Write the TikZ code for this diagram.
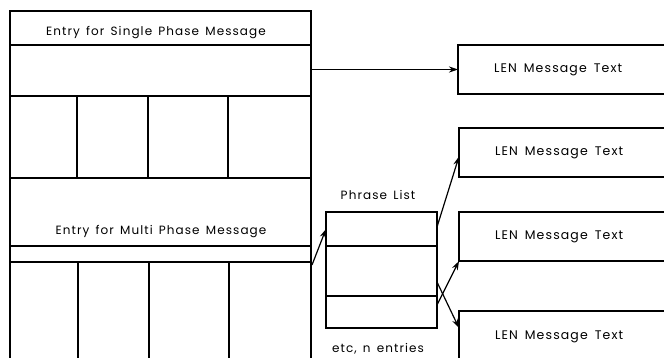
\documentclass[tikz,border=0pt]{standalone}
\usepackage{fontspec}
\setmainfont{Poppins}[LetterSpace=9,WordSpace=1.45]
\usetikzlibrary{arrows.meta,calc}
\newcommand\myLenFont{\fontsize{12.5}{14}\selectfont\spaceskip=7pt\relax}
\newcommand\lentext[1]{\makebox[188pt][l]{#1}}
\begin{document}
\begin{tikzpicture}[x=1pt,y=-1pt,line width=1.5pt,
  every node/.style={font=\fontsize{12}{14}\selectfont},
  box/.style={draw,rectangle,inner sep=0pt,outer sep=0pt,anchor=north west},
  lenbox/.style={box,minimum width=260pt,minimum height=49pt,inner xsep=36pt,font=\myLenFont},
  lbl/.style={inner sep=0pt},
  conn/.style={-{Stealth[length=9pt,width=6pt]},line width=1.2pt}]
\useasboundingbox (0,0) rectangle (664,358);
\clip (0,0) rectangle (664,358);
% left table
\node[box,minimum width=301pt,minimum height=34pt] (title) at (10,11) {};
\node[lbl] (titletext) at (156,33) {Entry for Single Phase Message};
\node[box,minimum width=301pt,minimum height=51pt] (single) at (10,45) {};
\node[box,minimum width=67pt,minimum height=82pt] (sc1) at (10,96) {};
\node[box,minimum width=71pt,minimum height=82pt] (sc2) at (77,96) {};
\node[box,minimum width=80pt,minimum height=82pt] (sc3) at (148,96) {};
\node[box,minimum width=83pt,minimum height=82pt] (sc4) at (228,96) {};
\node[box,minimum width=301pt,minimum height=68pt] (multi) at (10,178) {};
\node[lbl] (multitext) at (161,232) {Entry for Multi Phase Message};
\node[box,minimum width=301pt,minimum height=16pt] (thin) at (10,246) {};
\node[box,minimum width=68pt,minimum height=120pt] (mc1) at (10,262) {};
\node[box,minimum width=71pt,minimum height=120pt] (mc2) at (78,262) {};
\node[box,minimum width=80pt,minimum height=120pt] (mc3) at (149,262) {};
\node[box,minimum width=82pt,minimum height=120pt] (mc4) at (229,262) {};
% phrase list
\node[lbl] (phtitle) at (378,195) {Phrase List};
\node[box,minimum width=111pt,minimum height=34pt] (ph1) at (326,212) {};
\node[box,minimum width=111pt,minimum height=50pt] (ph2) at (326,246) {};
\node[box,minimum width=111pt,minimum height=32pt] (ph3) at (326,296) {};
\node[lbl] (etc) at (378,349) {etc, n entries};
% message boxes
\node[lenbox] (len1) at (458,45) {\lentext{LEN Message Text}};
\node[lenbox] (len2) at (459,128) {\lentext{LEN Message Text}};
\node[lenbox] (len3) at (459,212) {\lentext{LEN Message Text}};
\node[lenbox,minimum height=52pt] (len4) at (459,311) {\lentext{LEN Message Text}};
% connectors
\draw[conn] (single.east |- len1.west) -- (len1.west);
\draw[conn] ($(mc4.north east)+(1,3)$) -- (ph1.west);
\draw[conn] ($(ph1.east)+(0,-2)$) -- ($(len2.west)+(0,4)$);
\draw[conn] ($(ph3.east)+(0,-7)$) -- (len3.south west);
\draw[conn] ($(ph2.east)+(0,11)$) -- ($(len4.north west)+(0,17)$);
\end{tikzpicture}
\end{document}
